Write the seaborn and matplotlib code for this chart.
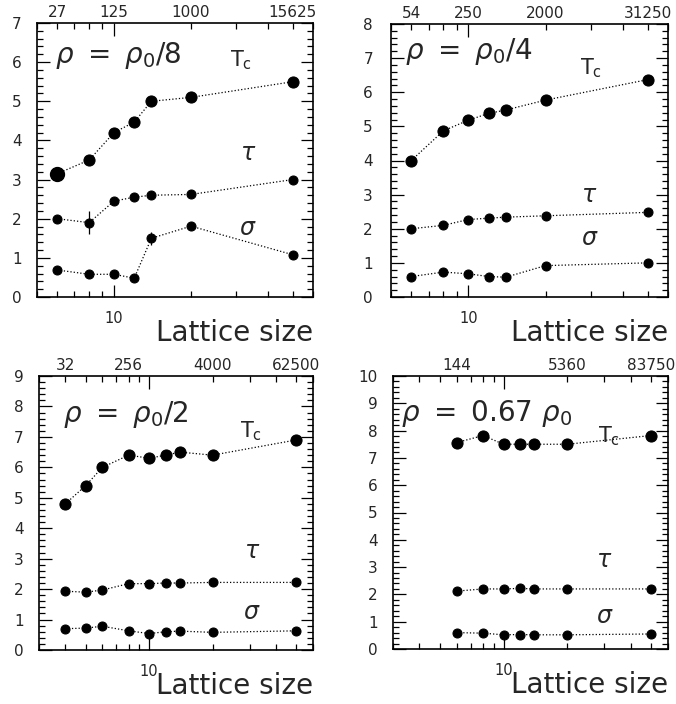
import numpy as np
import pandas as pd
import matplotlib
matplotlib.use("Agg")
import matplotlib.pyplot as plt
import matplotlib.ticker as mticker
import seaborn as sns

# Lattice sizes and measured quantities for each density
L_a = [6, 8, 10, 12, 14, 20, 50]
tc_a = [3.15, 3.5, 4.2, 4.47, 5.0, 5.1, 5.5]
tau_a = [2.0, 1.9, 2.45, 2.55, 2.6, 2.62, 3.0]
sig_a = [0.69, 0.58, 0.58, 0.48, 1.5, 1.81, 1.08]

L_b = [6, 8, 10, 12, 14, 20, 50]
tc_b = [4.0, 4.87, 5.18, 5.38, 5.48, 5.77, 6.37]
tau_b = [2.0, 2.1, 2.27, 2.31, 2.34, 2.38, 2.48]
sig_b = [0.6, 0.73, 0.68, 0.6, 0.58, 0.92, 1.0]

L_c = [4, 5, 6, 8, 10, 12, 14, 20, 50]
tc_c = [4.8, 5.4, 6.0, 6.4, 6.3, 6.4, 6.5, 6.4, 6.9]
tau_c = [1.93, 1.9, 1.97, 2.18, 2.18, 2.2, 2.2, 2.22, 2.22]
sig_c = [0.7, 0.72, 0.78, 0.63, 0.54, 0.6, 0.62, 0.58, 0.63]

L_d = [6, 8, 10, 12, 14, 20, 50]
tc_d = [7.56, 7.82, 7.5, 7.5, 7.5, 7.5, 7.82]
tau_d = [2.12, 2.2, 2.2, 2.22, 2.2, 2.2, 2.2]
sig_d = [0.6, 0.58, 0.52, 0.53, 0.52, 0.52, 0.55]

# Error bars (lattice size, value, half-width) per panel
err_a = [(8, 1.9, 0.3), (14, 1.5, 0.17)]

# Top axis: number of particles N = rho * L^3 at selected lattice sizes
top_L_a = [6, 10, 20, 50]
top_N_a = ["27", "125", "1000", "15625"]
top_L_b = [6, 10, 20, 50]
top_N_b = ["54", "250", "2000", "31250"]
top_L_c = [4, 8, 20, 50]
top_N_c = ["32", "256", "4000", "62500"]
top_L_d = [6, 20, 50]
top_N_d = ["144", "5360", "83750"]

titles = [r"$\rho\ =\ \rho_0/8$", r"$\rho\ =\ \rho_0/4$",
          r"$\rho\ =\ \rho_0/2$", r"$\rho\ =\ 0.67\ \rho_0$"]

sns.set_style("ticks")
plt.rcParams["font.family"] = ["DejaVu Sans"]
plt.rcParams["mathtext.fontset"] = "dejavusans"

fig = plt.figure(figsize=(6.76, 7.04), dpi=100)

# axes rectangles in figure fractions
rects = [
    (37 / 676, 1 - 297 / 704, 276 / 676, 274 / 704),
    (391 / 676, 1 - 297 / 704, 277 / 676, 273 / 704),
    (39 / 676, 1 - 650 / 704, 274 / 676, 274 / 704),
    (393 / 676, 1 - 649 / 704, 275 / 676, 273 / 704),
]

panels = [
    dict(L=L_a, tc=tc_a, tau=tau_a, sig=sig_a, ymax=7, xlim=(5, 60),
         tl=top_L_a, tn=top_N_a, err=err_a,
         title=(0.065, 0.883), tcpos=(0.70, 0.84), taupos=(0.737, 0.526),
         sigpos=(0.732, 0.252), ypad=11),
    dict(L=L_b, tc=tc_b, tau=tau_b, sig=sig_b, ymax=8, xlim=(5, 60),
         tl=top_L_b, tn=top_N_b, err=[],
         title=(0.05, 0.90), tcpos=(0.682, 0.817), taupos=(0.686, 0.374),
         sigpos=(0.686, 0.216), ypad=13),
    dict(L=L_c, tc=tc_c, tau=tau_c, sig=sig_c, ymax=9, xlim=(3, 60),
         tl=top_L_c, tn=top_N_c, err=[],
         title=(0.088, 0.858), tcpos=(0.734, 0.777), taupos=(0.748, 0.361),
         sigpos=(0.745, 0.139), ypad=11),
    dict(L=L_d, tc=tc_d, tau=tau_d, sig=sig_d, ymax=10, xlim=(3, 60),
         tl=top_L_d, tn=top_N_d, err=[],
         title=(0.029, 0.864), tcpos=(0.745, 0.755), taupos=(0.738, 0.326),
         sigpos=(0.738, 0.121), ypad=11),
]

for i, (p, r) in enumerate(zip(panels, rects)):
    ax = fig.add_axes(r)
    df = pd.DataFrame({
        "L": list(p["L"]) * 3,
        "value": list(p["tc"]) + list(p["tau"]) + list(p["sig"]),
        "q": ["Tc"] * len(p["L"]) + ["tau"] * len(p["L"]) + ["sig"] * len(p["L"]),
    })
    for q, ms in [("Tc", 8.0), ("tau", 6.5), ("sig", 6.5)]:
        sub = df[df["q"] == q]
        sns.lineplot(data=sub, x="L", y="value", ax=ax, color="black",
                     linestyle=":", linewidth=0.9, marker="o", markersize=ms,
                     markeredgecolor="black", markerfacecolor="black",
                     sort=False, estimator=None, legend=False)
    if i == 0:
        # the smallest lattice point is drawn with a larger symbol
        ax.plot(p["L"][0], p["tc"][0], "o", color="black", markersize=10)
    for (x, y, e) in p["err"]:
        ax.errorbar(x, y, yerr=e, fmt="none", ecolor="black", elinewidth=0.9)

    ax.set_xscale("log")
    ax.set_xlim(*p["xlim"])
    ax.set_ylim(0, p["ymax"])
    ax.set_xlabel("")
    ax.set_ylabel("")

    ax.xaxis.set_major_locator(mticker.FixedLocator([10]))
    ax.xaxis.set_major_formatter(mticker.FixedFormatter(["10"]))
    ax.xaxis.set_minor_locator(mticker.LogLocator(base=10, subs=np.arange(2, 10), numticks=20))
    ax.xaxis.set_minor_formatter(mticker.NullFormatter())
    ax.yaxis.set_major_locator(mticker.MultipleLocator(1))
    ax.yaxis.set_minor_locator(mticker.MultipleLocator(0.2))

    ax.tick_params(axis="both", which="both", direction="in",
                   top=True, right=True, width=0.9, color="black")
    ax.tick_params(axis="both", which="major", length=9)
    ax.tick_params(axis="both", which="minor", length=4)
    ax.tick_params(axis="x", which="major", labelsize=10.5, pad=10)
    ax.tick_params(axis="y", which="major", labelsize=11, pad=p["ypad"])
    for s in ax.spines.values():
        s.set_linewidth(1.2)
        s.set_color("black")

    # top axis labelled with particle numbers
    top = ax.secondary_xaxis("top")
    top.set_xticks(p["tl"])
    top.set_xticklabels(p["tn"])
    top.xaxis.set_minor_locator(mticker.NullLocator())
    top.tick_params(axis="x", which="both", length=0, labelsize=11, pad=2)
    top.spines["top"].set_visible(False)

    ax.text(p["title"][0], p["title"][1], titles[i], transform=ax.transAxes,
            ha="left", va="center", fontsize=20)
    ax.text(p["tcpos"][0], p["tcpos"][1], r"$\mathrm{T_c}$", transform=ax.transAxes,
            ha="left", va="baseline", fontsize=15)
    ax.text(p["taupos"][0], p["taupos"][1], r"$\tau$", transform=ax.transAxes,
            ha="left", va="center", fontsize=17)
    ax.text(p["sigpos"][0], p["sigpos"][1], r"$\sigma$", transform=ax.transAxes,
            ha="left", va="center", fontsize=17)
    ax.text(1.0, -0.08, "Lattice size", transform=ax.transAxes,
            ha="right", va="top", fontsize=20)

fig.savefig("out.png", dpi=100)
